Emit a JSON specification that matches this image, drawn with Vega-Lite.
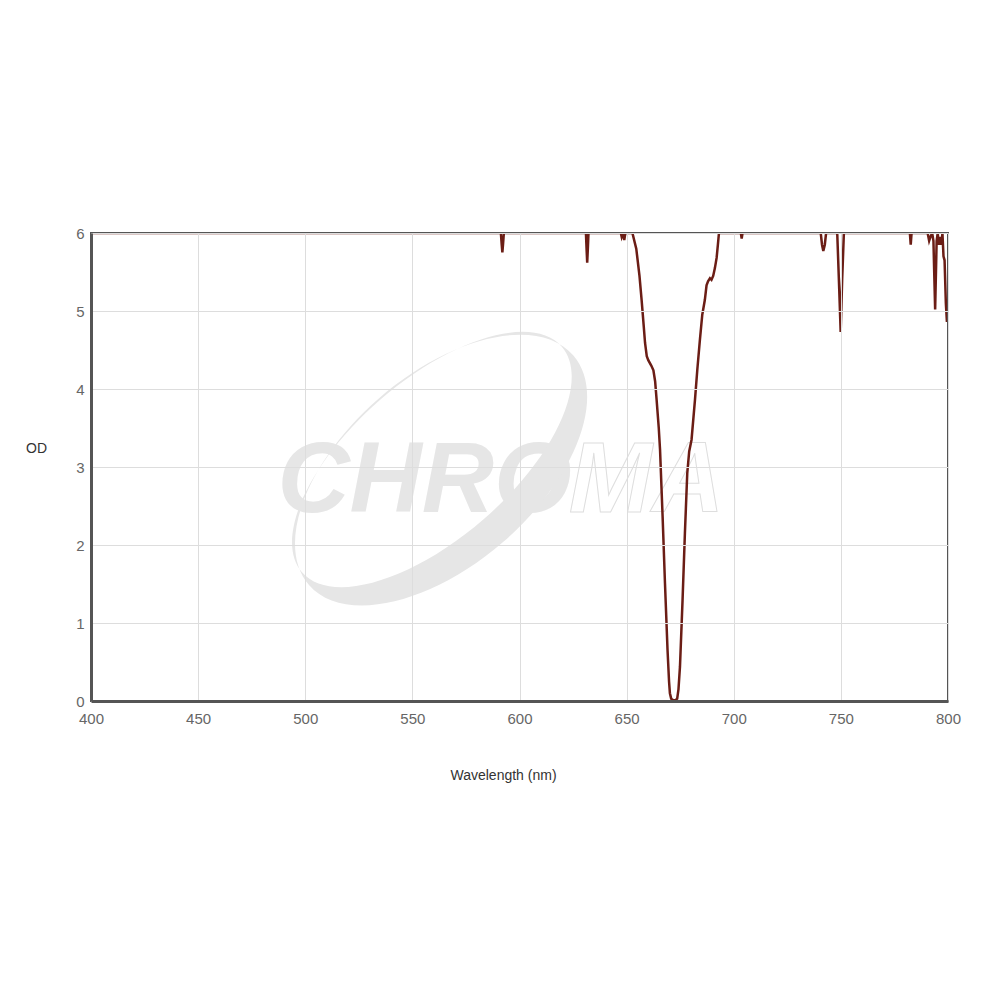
{
  "$schema": "https://vega.github.io/schema/vega-lite/v6.json",
  "autosize": {"type": "none"},
  "width": 857,
  "height": 468,
  "padding": {"left": 91, "top": 233, "right": 52, "bottom": 299},
  "background": "white",
  "data": {"values": [{"item": "annotation"}]},
  "config": {
    "view": {"stroke": "#555555", "strokeWidth": 2},
    "font": "Liberation Sans",
    "axis": {
      "grid": true,
      "gridColor": "#dddddd",
      "gridWidth": 1,
      "domainColor": "#555555",
      "domainWidth": 3,
      "ticks": false,
      "tickSize": 0,
      "labelFlush": false,
      "labelColor": "#666666",
      "labelFontSize": 15,
      "labelFont": "Liberation Sans",
      "titleFont": "Liberation Sans",
      "titleFontSize": 14,
      "titleFontWeight": "normal",
      "titleColor": "#333333"
    }
  },
  "datasets": {
    "curve": [
      {"wavelength": 400, "od": 6},
      {"wavelength": 591.3, "od": 6},
      {"wavelength": 591.7, "od": 5.85},
      {"wavelength": 592.0, "od": 5.75},
      {"wavelength": 592.3, "od": 5.85},
      {"wavelength": 592.7, "od": 6},
      {"wavelength": 631.0, "od": 6},
      {"wavelength": 631.3, "od": 5.8},
      {"wavelength": 631.6, "od": 5.62},
      {"wavelength": 631.9, "od": 5.8},
      {"wavelength": 632.2, "od": 6},
      {"wavelength": 647.3, "od": 6},
      {"wavelength": 647.7, "od": 5.95},
      {"wavelength": 648.3, "od": 6},
      {"wavelength": 648.9, "od": 5.91},
      {"wavelength": 649.4, "od": 6},
      {"wavelength": 652.7, "od": 6},
      {"wavelength": 654.5, "od": 5.8},
      {"wavelength": 656.0, "od": 5.45},
      {"wavelength": 657.0, "od": 5.14},
      {"wavelength": 658.0, "od": 4.8},
      {"wavelength": 658.6, "od": 4.59},
      {"wavelength": 659.4, "od": 4.42},
      {"wavelength": 660.1, "od": 4.37},
      {"wavelength": 661.5, "od": 4.3},
      {"wavelength": 662.5, "od": 4.24},
      {"wavelength": 663.3, "od": 4.1},
      {"wavelength": 664.0, "od": 3.86},
      {"wavelength": 665.0, "od": 3.5},
      {"wavelength": 665.6, "od": 3.22},
      {"wavelength": 666.8, "od": 2.36},
      {"wavelength": 667.9, "od": 1.51},
      {"wavelength": 669.1, "od": 0.65},
      {"wavelength": 669.8, "od": 0.25},
      {"wavelength": 670.2, "od": 0.1},
      {"wavelength": 670.8, "od": 0.03},
      {"wavelength": 671.8, "od": 0.01},
      {"wavelength": 672.8, "od": 0.01},
      {"wavelength": 673.6, "od": 0.03},
      {"wavelength": 674.2, "od": 0.15},
      {"wavelength": 674.9, "od": 0.44},
      {"wavelength": 676.1, "od": 1.29},
      {"wavelength": 677.2, "od": 2.15},
      {"wavelength": 678.3, "od": 2.92},
      {"wavelength": 679.2, "od": 3.2},
      {"wavelength": 680.3, "od": 3.35},
      {"wavelength": 681.9, "od": 3.86},
      {"wavelength": 683.0, "od": 4.25},
      {"wavelength": 684.2, "od": 4.63},
      {"wavelength": 685.3, "od": 4.95},
      {"wavelength": 686.5, "od": 5.14},
      {"wavelength": 687.3, "od": 5.33},
      {"wavelength": 688.0, "od": 5.38},
      {"wavelength": 688.9, "od": 5.42},
      {"wavelength": 689.6, "od": 5.4},
      {"wavelength": 690.4, "od": 5.45},
      {"wavelength": 691.2, "od": 5.55},
      {"wavelength": 692.0, "od": 5.68},
      {"wavelength": 692.6, "od": 5.85},
      {"wavelength": 693.1, "od": 6},
      {"wavelength": 703.3, "od": 6},
      {"wavelength": 703.7, "od": 5.93},
      {"wavelength": 704.1, "od": 6},
      {"wavelength": 740.6, "od": 6},
      {"wavelength": 741.2, "od": 5.85},
      {"wavelength": 741.8, "od": 5.77},
      {"wavelength": 742.5, "od": 5.85},
      {"wavelength": 743.1, "od": 6},
      {"wavelength": 748.3, "od": 6},
      {"wavelength": 749.2, "od": 5.3},
      {"wavelength": 749.9, "od": 4.73},
      {"wavelength": 750.6, "od": 5.4},
      {"wavelength": 751.4, "od": 6},
      {"wavelength": 782.2, "od": 6},
      {"wavelength": 782.6, "od": 5.85},
      {"wavelength": 783.0, "od": 6},
      {"wavelength": 790.5, "od": 6},
      {"wavelength": 791.2, "od": 5.9},
      {"wavelength": 791.8, "od": 5.95},
      {"wavelength": 792.6, "od": 6},
      {"wavelength": 793.2, "od": 5.9},
      {"wavelength": 794.0, "od": 5.02},
      {"wavelength": 794.7, "od": 5.9},
      {"wavelength": 795.2, "od": 6},
      {"wavelength": 795.7, "od": 5.85},
      {"wavelength": 796.3, "od": 5.95},
      {"wavelength": 796.9, "od": 5.85},
      {"wavelength": 797.4, "od": 6},
      {"wavelength": 797.9, "od": 5.7},
      {"wavelength": 798.4, "od": 5.65},
      {"wavelength": 799.0, "od": 5.1},
      {"wavelength": 799.5, "od": 4.86},
      {"wavelength": 800, "od": 4.95}
    ]
  },
  "layer": [
    {
      "mark": {"type": "text", "text": "CHRO", "font": "Liberation Sans", "fontSize": 100, "fontWeight": "bold", "fontStyle": "italic", "fill": "#e6e6e6", "align": "left", "baseline": "alphabetic"},
      "encoding": {"x": {"datum": 487}, "y": {"datum": 2.42}}
    },
    {
      "mark": {"type": "text", "text": "MA", "font": "Liberation Sans", "fontSize": 100, "fontWeight": "bold", "fontStyle": "italic", "fill": "white", "fillOpacity": 0, "stroke": "#dedede", "strokeWidth": 1, "align": "left", "baseline": "alphabetic"},
      "encoding": {"x": {"datum": 623}, "y": {"datum": 2.42}}
    },
    {
      "mark": {"type": "point", "filled": true, "color": "#e6e6e6", "opacity": 1, "size": 4, "shape": "M 132.1 -114.8 A 175 95 -41 1 1 -132.1 114.8 A 175 95 -41 1 1 132.1 -114.8 Z M 120.7 -123.4 A 172 79 -41 1 0 -139.1 102.2 A 172 79 -41 1 0 120.7 -123.4 Z"},
      "encoding": {"x": {"datum": 563.4}, "y": {"datum": 2.96}}
    },
    {
      "data": {"name": "curve"},
      "mark": {"type": "line", "color": "#6b1d15", "strokeWidth": 2.5, "clip": true, "interpolate": "linear"},
      "encoding": {
        "x": {
          "field": "wavelength",
          "type": "quantitative",
          "scale": {"domain": [400, 800], "nice": false, "zero": false},
          "axis": {
            "values": [400, 450, 500, 550, 600, 650, 700, 750, 800],
            "format": "d",
            "grid": true,
            "zindex": 1,
            "title": "Wavelength (nm)",
            "labelPadding": 10,
            "titleX": 412,
            "titleY": 74,
            "titleAnchor": "middle",
            "titleAlign": "center",
            "titleBaseline": "middle"
          }
        },
        "y": {
          "field": "od",
          "type": "quantitative",
          "scale": {"domain": [0, 6], "nice": false},
          "axis": {
            "values": [0, 1, 2, 3, 4, 5, 6],
            "format": "d",
            "grid": true,
            "zindex": 1,
            "title": "OD",
            "labelPadding": 7,
            "titleAngle": 0,
            "titleX": -55,
            "titleY": 215,
            "titleAlign": "center",
            "titleBaseline": "middle"
          }
        }
      }
    },
    {
      "mark": {"type": "rule", "color": "#555555", "strokeWidth": 2},
      "encoding": {"y": {"datum": 6}}
    },
    {
      "mark": {"type": "rule", "color": "#555555", "strokeWidth": 2},
      "encoding": {"x": {"datum": 800}}
    }
  ]
}
